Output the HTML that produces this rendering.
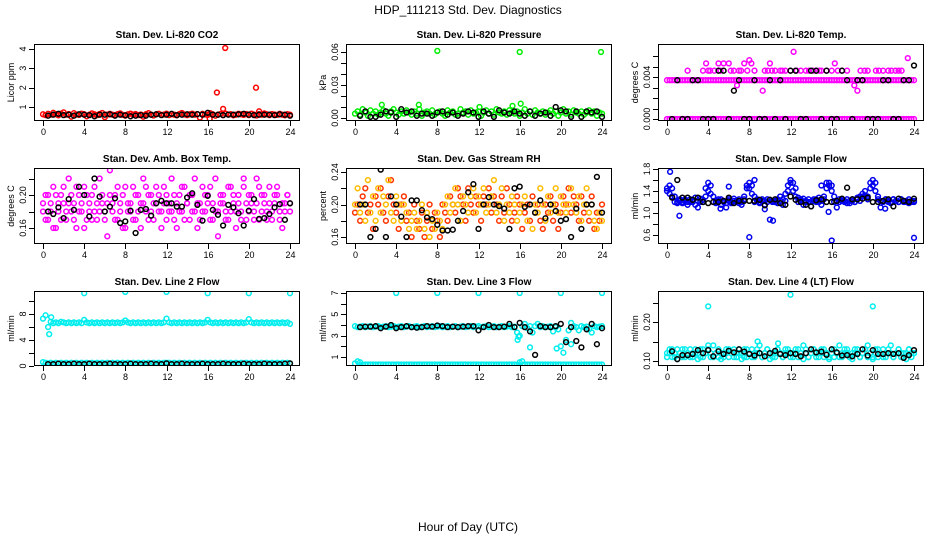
<!DOCTYPE html>
<html><head><meta charset="utf-8"><style>
html,body{margin:0;padding:0;background:#fff;}
svg{display:block;font-family:"Liberation Sans",sans-serif;}
</style></head><body>
<svg id="chart" width="936" height="540" viewBox="0 0 936 540" xmlns="http://www.w3.org/2000/svg">
<text x="468" y="14" text-anchor="middle" font-size="12">HDP_111213  Std. Dev. Diagnostics</text>
<text x="468" y="531" text-anchor="middle" font-size="12">Hour of Day (UTC)</text>
<g id="panels"></g>
</svg>
<script>
const xTicks = [0,4,8,12,16,20,24];
const blackHours = [0.5,1,1.5,2,2.5,3,3.5,4,4.5,5,5.5,6,6.5,7,7.5,8,8.5,9,9.5,10,10.5,11,11.5,12,12.5,13,13.5,14,14.5,15,15.5,16,16.5,17,17.5,18,18.5,19,19.5,20,20.5,21,21.5,22,22.5,23,23.5,24];

// Panel 1: CO2
const co2Red = [0.62,0.58,0.65,0.6,0.7,0.63,0.57,0.66,0.72,0.6,0.64,0.5,0.68,0.61,0.59,0.66,0.63,0.52,0.6,0.67,0.62,0.58,0.64,0.69,0.48,0.61,0.65,0.6,0.58,0.63,0.67,0.59,0.55,0.62,0.66,0.6,0.64,0.58,0.61,0.5,0.63,0.68,0.6,0.56,0.62,0.65,0.59,0.61,0.66,0.58,0.63,0.6,0.57,0.64,0.69,0.61,0.58,0.62,0.66,0.6,0.63,0.45,0.65,0.61,0.59,0.68,0.62,0.55,0.6,0.64,0.58,0.66,0.61,0.63,0.57,0.6,0.65,0.62,0.59,0.64,0.58,0.66,0.61,0.56,0.63,0.6,0.67,0.62,0.58,0.64,0.61,0.59,0.65,0.6,0.57,0.63,0.6];
const co2Black = [0.55,0.6,0.65,0.58,0.6,0.55,0.62,0.6,0.58,0.52,0.6,0.6,0.62,0.55,0.6,0.57,0.52,0.55,0.58,0.55,0.6,0.62,0.58,0.6,0.65,0.58,0.6,0.62,0.6,0.63,0.6,0.7,0.6,0.6,0.58,0.6,0.6,0.62,0.65,0.6,0.58,0.6,0.6,0.6,0.58,0.62,0.6,0.55];
const co2OutH = [16.9,17.5,17.7,20.7,16.2,21.0];
const co2OutV = [1.75,0.9,4.05,2.0,0.4,0.78];

// Panel 2: Pressure
const presGreen = [0.004,0.006,0.003,0.008,0.005,0.002,0.007,0.004,0.006,0.003,0.005,0.007,0.004,0.002,0.006,0.008,0.005,0.003,0.006,0.004,0.007,0.005,0.003,0.006,0.004,0.008,0.002,0.005,0.006,0.004,0.007,0.003,0.005,0.006,0.004,0.002,0.007,0.005,0.006,0.003,0.004,0.008,0.005,0.006,0.003,0.007,0.004,0.005,0.006,0.002,0.005,0.007,0.004,0.006,0.003,0.008,0.005,0.004,0.006,0.003,0.007,0.005,0.004,0.006,0.002,0.005,0.008,0.004,0.006,0.003,0.007,0.005,0.004,0.006,0.003,0.005,0.007,0.004,0.006,0.002,0.005,0.008,0.004,0.006,0.003,0.007,0.005,0.004,0.006,0.003,0.005,0.007,0.004,0.006,0.002,0.005,0.004];
const presBlack = [0.002,0.006,0.001,0.001,0.003,0.006,0.005,0.001,0.008,0.005,0.006,0.002,0.004,0.004,0.002,0.005,0.006,0.003,0.005,0.002,0.004,0.006,0.005,0.001,0.006,0.004,0.001,0.007,0.005,0.004,0.006,0.004,0.002,0.006,0.002,0.004,0.005,0.002,0.010,0.007,0.006,0.001,0.006,0.001,0.006,0.005,0.006,0.001];
const presOutH = [8.0,16.0,23.9,2.6,6.2,15.3,16.1,12.1];
const presOutV = [0.061,0.06,0.06,0.012,0.012,0.011,0.013,0.010];

// Panel 3: Temp
const tempLow = [0,0,0,0,0,0,0,0,0,0,0,0,0,0,0,0,0,0,0,0,0,0,0,0,0,0,0,0,0,0,0,0,0,0,0,0,0,0,0,0,0,0,0,0,0,0,0,0,0,0,0,0,0,0,0,0,0,0,0,0,0,0,0,0,0,0,0,0,0,0,0,0,0,0,0,0,0,0,0,0,0,0,0,0,0,0,0,0,0,0,0,0,0,0,0,0,0];
const tempMid = [0.0037,0.0037,0.0037,0.0037,0.0037,0.0037,0.0037,0.0037,0.0037,0.0037,0.0037,0.0037,0.0037,0.0037,0.0037,0.0037,0.0037,0.0037,0.0037,0.0037,0.0037,0.0037,0.0037,0.0037,0.0037,0.0037,0.0037,0.0037,0.0037,0.0037,0.0037,0.0037,0.0037,0.0037,0.0037,0.0037,0.0037,0.0037,0.0037,0.0037,0.0037,0.0037,0.0037,0.0037,0.0037,0.0037,0.0037,0.0037,0.0037,0.0037,0.0037,0.0037,0.0037,0.0037,0.0037,0.0037,0.0037,0.0037,0.0037,0.0037,0.0037,0.0037,0.0037,0.0037,0.0037,0.0037,0.0037,0.0037,0.0037,0.0037,0.0037,0.0037,0.0037,0.0037,0.0037,0.0037,0.0037,0.0037,0.0037,0.0037,0.0037,0.0037,0.0037,0.0037,0.0037,0.0037,0.0037,0.0037,0.0037,0.0037,0.0037,0.0037,0.0037,0.0037,0.0037,0.0037,0.0037];
const tempHighH = [2,3.5,3.8,4,4.2,4.6,5,5.2,5.5,6,6.2,6.5,6.8,7,7.2,7.5,7.8,8,8.2,8.5,9.3,9.5,9.8,10,10.2,10.5,11,11.2,11.5,12,12.3,12.6,13,13.5,13.8,14.2,14.5,14.8,15,15.5,16,16.3,16.6,17,17.5,18.2,18.5,18.8,19.2,19.5,20.3,20.6,21,21.5,21.8,22.2,22.5,22.8,23.4];
const tempHighV = [0.0046,0.0046,0.0053,0.0046,0.0046,0.0046,0.0053,0.0046,0.0053,0.0053,0.0046,0.0046,0.0032,0.0046,0.0046,0.0053,0.0046,0.0056,0.0053,0.0046,0.0027,0.0046,0.0046,0.0053,0.0046,0.0046,0.0046,0.0046,0.0046,0.0046,0.0064,0.0046,0.0046,0.0046,0.0046,0.0046,0.0046,0.0046,0.0046,0.0046,0.0046,0.0053,0.0046,0.0046,0.0046,0.0032,0.0027,0.0046,0.0046,0.0046,0.0046,0.0046,0.0046,0.0046,0.0046,0.0046,0.0046,0.0046,0.0058];
const tempBlack = [0,0.0037,0,0,0.0037,0.0037,0,0,0,0.0046,0.0046,0,0.0027,0.0037,0,0,0.0037,0,0,0.0037,0,0.0037,0,0.0046,0.0046,0,0,0.0046,0.0046,0,0.0046,0,0,0.0046,0.0037,0,0.0037,0.0037,0,0,0,0.0037,0.0037,0,0,0.0037,0.0037,0.0051];

// Panel 4: Amb box temp
const ambA = [0.18,0.2,0.17,0.19,0.21,0.16,0.18,0.2,0.19,0.17,0.22,0.18,0.19,0.16,0.2,0.18,0.21,0.17,0.19,0.2,0.18,0.17,0.22,0.19,0.18,0.15,0.2,0.19,0.17,0.21,0.18,0.2,0.16,0.19,0.18,0.21,0.17,0.2,0.19,0.22,0.18,0.17,0.2,0.19,0.21,0.18,0.16,0.19,0.2,0.18,0.22,0.17,0.19,0.2,0.18,0.21,0.19,0.17,0.2,0.18,0.16,0.19,0.21,0.18,0.2,0.17,0.19,0.22,0.18,0.2,0.19,0.17,0.21,0.18,0.2,0.16,0.19,0.18,0.21,0.17,0.2,0.19,0.18,0.22,0.17,0.2,0.19,0.18,0.21,0.17,0.19,0.2,0.18,0.16,0.19,0.2,0.18];
const ambB = [0.19,0.17,0.2,0.18,0.16,0.2,0.19,0.17,0.21,0.18,0.19,0.2,0.17,0.21,0.18,0.19,0.16,0.2,0.18,0.17,0.21,0.19,0.18,0.2,0.17,0.19,0.23,0.18,0.2,0.17,0.19,0.16,0.21,0.18,0.19,0.17,0.2,0.18,0.16,0.19,0.21,0.2,0.18,0.17,0.19,0.2,0.18,0.21,0.17,0.19,0.18,0.2,0.16,0.18,0.21,0.17,0.19,0.2,0.18,0.22,0.19,0.17,0.18,0.2,0.19,0.21,0.17,0.18,0.15,0.19,0.2,0.18,0.17,0.21,0.19,0.18,0.2,0.17,0.22,0.19,0.18,0.2,0.17,0.19,0.21,0.18,0.2,0.17,0.19,0.18,0.2,0.21,0.17,0.19,0.18,0.2,0.19];
const ambBlack = [0.18,0.177,0.185,0.172,0.195,0.182,0.21,0.2,0.174,0.22,0.198,0.18,0.186,0.196,0.166,0.168,0.181,0.154,0.182,0.183,0.175,0.19,0.193,0.19,0.19,0.186,0.186,0.197,0.202,0.188,0.169,0.199,0.182,0.176,0.163,0.188,0.185,0.178,0.163,0.181,0.195,0.171,0.172,0.177,0.185,0.189,0.17,0.19];

// Panel 5: Gas stream RH
const rhRed = [0.19,0.2,0.18,0.21,0.22,0.19,0.2,0.17,0.21,0.2,0.22,0.19,0.18,0.21,0.23,0.2,0.19,0.17,0.2,0.21,0.18,0.19,0.16,0.2,0.18,0.17,0.19,0.16,0.18,0.2,0.17,0.19,0.18,0.16,0.2,0.19,0.18,0.21,0.2,0.19,0.22,0.21,0.2,0.18,0.22,0.2,0.19,0.21,0.2,0.18,0.21,0.2,0.22,0.19,0.21,0.2,0.18,0.21,0.19,0.22,0.2,0.18,0.19,0.21,0.2,0.17,0.19,0.2,0.18,0.21,0.19,0.2,0.18,0.17,0.2,0.19,0.21,0.18,0.2,0.17,0.19,0.21,0.2,0.22,0.19,0.21,0.2,0.18,0.21,0.19,0.2,0.18,0.21,0.17,0.19,0.18,0.2];
const rhYellow = [0.2,0.22,0.19,0.2,0.18,0.23,0.19,0.21,0.18,0.22,0.19,0.21,0.2,0.23,0.19,0.18,0.21,0.2,0.18,0.2,0.19,0.17,0.18,0.19,0.17,0.18,0.2,0.17,0.19,0.16,0.18,0.17,0.19,0.18,0.17,0.2,0.21,0.19,0.2,0.22,0.2,0.18,0.21,0.2,0.19,0.21,0.22,0.19,0.21,0.2,0.22,0.19,0.2,0.21,0.23,0.19,0.2,0.22,0.18,0.2,0.19,0.21,0.2,0.18,0.19,0.2,0.21,0.18,0.2,0.17,0.2,0.19,0.22,0.2,0.18,0.21,0.19,0.2,0.22,0.19,0.21,0.2,0.19,0.2,0.22,0.2,0.19,0.21,0.18,0.2,0.22,0.19,0.2,0.18,0.17,0.19,0.18];
const rhBlack = [0.2,0.2,0.16,0.17,0.243,0.16,0.21,0.2,0.185,0.16,0.205,0.205,0.193,0.184,0.182,0.175,0.168,0.168,0.169,0.18,0.192,0.215,0.225,0.17,0.2,0.209,0.2,0.198,0.195,0.17,0.22,0.222,0.197,0.2,0.19,0.205,0.183,0.2,0.192,0.18,0.182,0.16,0.195,0.17,0.2,0.2,0.234,0.19];

// Panel 6: Sample flow
const sfBlue = [1.4,1.5,1.45,1.3,1.2,1.25,1.18,1.22,1.2,1.25,1.2,1.15,1.22,1.26,1.2,1.45,1.55,1.5,1.3,1.2,1.22,1.25,1.2,1.18,1.22,1.2,1.26,1.22,1.18,1.2,1.25,1.45,1.55,1.5,1.3,1.22,1.2,1.25,1.22,1.2,1.24,1.2,1.22,1.18,1.3,1.25,1.22,1.4,1.6,1.55,1.45,1.28,1.22,1.26,1.2,1.25,1.2,1.22,1.25,1.2,1.22,1.25,1.45,1.55,1.5,1.3,1.22,1.2,1.25,1.22,1.18,1.22,1.25,1.2,1.28,1.3,1.35,1.4,1.3,1.45,1.6,1.55,1.3,1.22,1.2,1.25,1.22,1.2,1.25,1.22,1.2,1.25,1.22,1.2,1.18,1.22,1.2];
const sfBlue2 = [1.45,1.35,1.3,1.2,1.18,1.22,1.2,1.25,1.15,1.2,1.22,1.28,1.1,1.2,1.24,1.3,1.4,1.35,1.2,1.18,1.25,1.15,1.22,1.1,1.25,1.18,1.22,1.2,1.25,1.15,1.3,1.5,1.45,1.35,1.2,1.25,1.18,1.22,1.15,1.25,0.88,1.22,1.2,1.25,1.22,1.15,1.35,1.5,1.55,1.4,1.3,1.2,1.25,1.15,1.22,1.2,1.12,1.25,1.2,1.28,1.15,1.3,1.55,1.5,1.4,1.2,1.1,1.25,1.22,1.2,1.25,1.18,1.22,1.2,1.25,1.22,1.3,1.32,1.25,1.55,1.5,1.4,1.25,1.1,1.22,1.25,1.2,1.18,1.25,1.22,1.2,1.25,1.2,1.22,1.25,1.2,1.22];
const sfBlack = [1.28,1.6,1.28,1.28,1.24,1.28,1.2,1.18,1.2,1.2,1.22,1.28,1.18,1.22,1.22,1.22,1.22,1.24,1.14,1.24,1.25,1.18,1.15,1.3,1.24,1.2,1.15,1.12,1.23,1.25,1.2,1.2,1.22,1.26,1.46,1.25,1.25,1.26,1.28,1.2,1.2,1.22,1.25,1.12,1.26,1.22,1.2,1.26];
const sfOutH = [0.3,8.0,16.0,24.0,10.3,6.0,8.5,15.0,15.7,1.2,5.2,9.5,21.2];
const sfOutV = [1.75,0.56,0.5,0.55,0.86,1.48,1.6,1.5,1.02,0.95,1.08,1.07,1.08];

// Panel 7: Line 2 flow
const l2High = [7.3,7.8,6.0,6.8,6.6,6.7,6.6,6.8,6.7,6.6,6.7,6.6,6.7,6.6,6.7,6.6,7.1,6.7,6.6,6.7,6.6,6.7,6.6,6.7,6.6,6.7,6.6,6.7,6.6,6.7,6.6,6.7,7.0,6.7,6.6,6.7,6.6,6.7,6.6,6.7,6.6,6.7,6.6,6.7,6.6,6.7,6.6,6.7,7.3,6.7,6.6,6.7,6.6,6.7,6.6,6.7,6.6,6.7,6.6,6.7,6.6,6.7,6.6,6.7,7.1,6.7,6.6,6.7,6.6,6.7,6.6,6.7,6.6,6.7,6.6,6.7,6.6,6.7,6.6,6.7,7.2,6.7,6.6,6.7,6.6,6.7,6.6,6.7,6.6,6.7,6.6,6.7,6.6,6.7,6.6,6.7,6.5];
const l2Low = [0.6,0.5,0.4,0.5,0.4,0.5,0.4,0.5,0.4,0.5,0.4,0.5,0.4,0.5,0.4,0.5,0.4,0.5,0.4,0.5,0.4,0.5,0.4,0.5,0.4,0.5,0.4,0.5,0.4,0.5,0.4,0.5,0.4,0.5,0.4,0.5,0.4,0.5,0.4,0.5,0.4,0.5,0.4,0.5,0.4,0.5,0.4,0.5,0.5,0.5,0.4,0.5,0.4,0.5,0.4,0.5,0.4,0.5,0.4,0.5,0.4,0.5,0.4,0.5,0.4,0.5,0.4,0.5,0.4,0.5,0.4,0.5,0.4,0.5,0.4,0.5,0.4,0.5,0.4,0.5,0.4,0.5,0.4,0.5,0.4,0.5,0.4,0.5,0.4,0.5,0.4,0.5,0.4,0.5,0.4,0.5,0.4];
const l2Black = [0.3,0.3,0.35,0.3,0.3,0.35,0.3,0.3,0.35,0.3,0.3,0.3,0.35,0.3,0.3,0.3,0.35,0.3,0.3,0.3,0.35,0.3,0.3,0.4,0.3,0.3,0.35,0.3,0.3,0.3,0.35,0.3,0.3,0.3,0.35,0.3,0.3,0.3,0.35,0.3,0.3,0.3,0.35,0.3,0.3,0.3,0.35,0.4];
const l2OutH = [4,8,12,16,20,24,0.6,0.8];
const l2OutV = [11.2,11.4,11.4,11.2,11.2,11.2,4.9,7.5];

// Panel 8: Line 3 flow
const l3High = [3.9,3.8,3.85,3.9,3.8,3.85,3.9,3.8,3.85,3.9,3.8,3.85,3.9,3.8,3.85,3.9,3.8,3.85,3.9,3.8,3.85,3.9,3.8,3.85,3.9,3.8,3.85,3.9,3.8,3.85,3.9,3.8,3.85,3.9,3.8,3.85,3.9,3.8,3.85,3.9,3.8,3.85,3.9,3.8,3.85,3.9,3.8,3.85,3.9,3.8,3.85,3.9,3.8,3.85,3.9,3.8,3.85,3.9,3.8,3.85,3.9,3.8,3.85,3.3,3.0,3.9,4.1,3.7,3.9,3.3,3.9,4.1,3.8,3.9,3.8,3.85,3.9,3.4,3.8,3.6,2.0,1.4,2.6,3.5,4.2,3.9,3.8,3.5,3.9,3.8,3.85,3.6,3.3,3.9,3.8,3.85,3.9];
const l3Low = [0.4,0.6,0.5,0.3,0.3,0.3,0.3,0.3,0.3,0.3,0.3,0.3,0.3,0.3,0.3,0.3,0.3,0.3,0.3,0.3,0.3,0.3,0.3,0.3,0.3,0.3,0.3,0.3,0.3,0.3,0.3,0.3,0.3,0.3,0.3,0.3,0.3,0.3,0.3,0.3,0.3,0.3,0.3,0.3,0.3,0.3,0.3,0.3,0.3,0.3,0.3,0.3,0.3,0.3,0.3,0.3,0.3,0.3,0.3,0.3,0.3,0.3,0.3,0.3,0.5,0.6,0.3,0.3,0.3,0.3,0.3,0.3,0.3,0.3,0.3,0.3,0.3,0.3,0.3,0.3,0.3,0.3,0.3,0.3,0.3,0.3,0.3,0.3,0.3,0.3,0.3,0.3,0.3,0.3,0.3,0.3,0.3];
const l3Black = [3.8,3.85,3.85,3.9,3.7,3.85,4.0,3.7,3.8,3.9,3.8,3.75,3.8,3.9,3.85,3.95,3.9,3.8,3.85,3.8,3.85,3.9,3.9,3.5,3.8,4.0,3.8,3.8,3.85,4.1,3.8,4.2,3.8,3.4,1.2,3.9,3.8,3.8,3.9,4.1,2.4,3.8,2.5,1.9,3.6,4.1,2.2,3.7];
const l3OutH = [4,8,12,16,20,24,15.8,15.9,19.6,21.0,17.0];
const l3OutV = [7.0,7.0,7.0,7.0,7.0,7.0,2.6,2.9,1.8,2.2,1.9];

// Panel 9: Line 4 flow
const l4A = [0.12,0.13,0.11,0.12,0.13,0.12,0.11,0.13,0.12,0.11,0.12,0.13,0.12,0.11,0.13,0.12,0.14,0.12,0.11,0.12,0.13,0.12,0.11,0.12,0.13,0.12,0.11,0.12,0.13,0.12,0.11,0.13,0.12,0.11,0.12,0.13,0.12,0.11,0.12,0.13,0.12,0.11,0.12,0.13,0.12,0.11,0.12,0.13,0.12,0.11,0.12,0.13,0.12,0.14,0.12,0.11,0.12,0.13,0.12,0.11,0.12,0.13,0.12,0.11,0.12,0.13,0.12,0.11,0.12,0.13,0.12,0.11,0.12,0.13,0.12,0.11,0.12,0.13,0.14,0.12,0.11,0.12,0.13,0.12,0.11,0.12,0.13,0.12,0.11,0.12,0.13,0.12,0.11,0.12,0.13,0.12,0.12];
const l4B = [0.11,0.12,0.13,0.11,0.105,0.12,0.13,0.11,0.12,0.13,0.11,0.12,0.105,0.13,0.11,0.12,0.13,0.11,0.14,0.12,0.11,0.105,0.12,0.13,0.11,0.12,0.13,0.11,0.12,0.105,0.13,0.11,0.12,0.13,0.11,0.12,0.14,0.11,0.12,0.13,0.105,0.12,0.11,0.13,0.12,0.11,0.13,0.12,0.11,0.12,0.13,0.11,0.12,0.105,0.13,0.11,0.12,0.13,0.11,0.12,0.13,0.11,0.12,0.105,0.13,0.11,0.12,0.14,0.11,0.12,0.13,0.11,0.105,0.12,0.13,0.11,0.12,0.13,0.11,0.12,0.105,0.13,0.11,0.12,0.13,0.11,0.12,0.14,0.11,0.12,0.13,0.11,0.12,0.105,0.13,0.11,0.12];
const l4Black = [0.125,0.105,0.115,0.115,0.118,0.128,0.12,0.128,0.112,0.125,0.118,0.126,0.122,0.13,0.124,0.118,0.114,0.12,0.112,0.12,0.126,0.118,0.115,0.12,0.118,0.112,0.12,0.13,0.122,0.124,0.116,0.13,0.122,0.114,0.115,0.112,0.118,0.13,0.114,0.128,0.118,0.118,0.12,0.118,0.12,0.108,0.115,0.128];
const l4OutH = [4,12,20,10.8,8.8];
const l4OutV = [0.24,0.27,0.24,0.145,0.15];

const NS = "http://www.w3.org/2000/svg";
const root = document.getElementById('panels');
function mk(tag, attrs, parent){
  const e = document.createElementNS(NS, tag);
  for (const k in attrs) e.setAttribute(k, attrs[k]);
  (parent||root).appendChild(e);
  return e;
}
const COLS = [34, 346, 658];
const ROWS = [[44,121],[168,244],[291,366]];

function panel(cfg){
  const L = COLS[cfg.col], R = L + 266;
  const T = ROWS[cfg.row][0], B = ROWS[cfg.row][1];
  const g = mk('g', {});
  
  
  const xS = h => L + 9 + h * (247/24);
  const yS = v => cfg.pa + (v - cfg.va) * (cfg.pb - cfg.pa) / (cfg.vb - cfg.va);
  const t = mk('text', {x:(L+R)/2, y:T-6, 'text-anchor':'middle', 'font-size':'10', 'font-weight':'bold'}, g);
  t.textContent = cfg.title;
  
  
  const clip = 'clip' + cfg.col + cfg.row;
  const cp = mk('clipPath', {id: clip}, g);
  mk('rect', {x:L, y:T, width:R-L, height:B-T}, cp);
  const pts = mk('g', {'clip-path':'url(#'+clip+')'}, g);
  
  
  cfg.series.forEach(s => {
    const sg = mk('g', {fill:'none', stroke:s.color, 'stroke-width':'1.5'}, pts);
    
    
    s.v.forEach((v, i) => {
      const h = s.h ? s.h[i] : i * 24 / (s.v.length - 1);
      const c = mk('circle', {cx:xS(h).toFixed(1), cy:yS(v).toFixed(1), r:'2.4'}, sg);
      
      
    });
  });
  const box = mk('rect', {x:L+0.5, y:T+0.5, width:R-L-1, height:B-T-1, fill:'none', stroke:'#000', 'stroke-width':'1'}, g);
  
  
  const xa = mk('g', {}, g);
  
  
  xTicks.forEach(h => {
    const x = Math.round(xS(h)) + 0.5;
    mk('line', {x1:x, x2:x, y1:B, y2:B+5, stroke:'#000'}, xa);
    const lt = mk('text', {x:x, y:B+14, 'text-anchor':'middle', 'font-size':'9'}, xa);
    lt.textContent = h;
  });
  const ya = mk('g', {}, g);
  
  
  cfg.yTicks.forEach(v => {
    const y = Math.round(yS(v)) + 0.5;
    mk('line', {x1:L-5, x2:L, y1:y, y2:y, stroke:'#000'}, ya);
  });
  cfg.yLabels.forEach(v => {
    const y = yS(v);
    const lt = mk('text', {x:0, y:0, transform:'translate('+(L-8)+','+y.toFixed(1)+') rotate(-90)', 'text-anchor':'middle', 'font-size':'9'}, ya);
    lt.textContent = v.toFixed(cfg.dec);
  });
  const yt = mk('text', {x:0, y:0, transform:'translate('+(L-20)+','+((T+B)/2)+') rotate(-90)', 'text-anchor':'middle', 'font-size':'9'}, g);
  yt.textContent = cfg.ytitle;
  
  
}

panel({name:'panel-co2', col:0,row:0,title:'Stan. Dev. Li-820 CO2',ytitle:'Licor ppm',va:1,pa:107,vb:4,pb:49,dec:0,
  yTicks:[1,2,3,4], yLabels:[1,2,3,4],
  series:[{name:'co2-red',color:'#ff0000',v:co2Red},{name:'co2-outliers',color:'#ff0000',v:co2OutV,h:co2OutH},{name:'co2-black',color:'#000',v:co2Black,h:blackHours}]});
panel({name:'panel-pressure', col:1,row:0,title:'Stan. Dev. Li-820 Pressure',ytitle:'kPa',va:0,pa:118,vb:0.06,pb:52,dec:2,
  yTicks:[0,0.01,0.02,0.03,0.04,0.05,0.06], yLabels:[0,0.03,0.06],
  series:[{name:'pressure-green',color:'#00ee00',v:presGreen},{name:'pressure-outliers',color:'#00ee00',v:presOutV,h:presOutH},{name:'pressure-black',color:'#000',v:presBlack,h:blackHours}]});
panel({name:'panel-temp', col:2,row:0,title:'Stan. Dev. Li-820 Temp.',ytitle:'degrees C',va:0,pa:119,vb:0.004,pb:77,dec:3,
  yTicks:[0,0.001,0.002,0.003,0.004,0.005,0.006], yLabels:[0,0.004],
  series:[{name:'temp-low',color:'#ff00ff',v:tempLow},{name:'temp-mid',color:'#ff00ff',v:tempMid},{name:'temp-high',color:'#ff00ff',v:tempHighV,h:tempHighH},{name:'temp-black',color:'#000',v:tempBlack,h:blackHours}]});
panel({name:'panel-amb-box', col:0,row:1,title:'Stan. Dev. Amb. Box Temp.',ytitle:'degrees C',va:0.16,pa:228,vb:0.20,pb:195,dec:2,
  yTicks:[0.16,0.18,0.20,0.22], yLabels:[0.16,0.20],
  series:[{name:'amb-a',color:'#ff00ff',v:ambA},{name:'amb-b',color:'#ff00ff',v:ambB},{name:'amb-black',color:'#000',v:ambBlack,h:blackHours}]});
panel({name:'panel-rh', col:1,row:1,title:'Stan. Dev. Gas Stream RH',ytitle:'percent',va:0.16,pa:237,vb:0.24,pb:172,dec:2,
  yTicks:[0.16,0.18,0.20,0.22,0.24], yLabels:[0.16,0.20,0.24],
  series:[{name:'rh-red',color:'#ff3300',v:rhRed},{name:'rh-yellow',color:'#ffbb00',v:rhYellow},{name:'rh-black',color:'#000',v:rhBlack,h:blackHours}]});
panel({name:'panel-sample-flow', col:2,row:1,title:'Stan. Dev. Sample Flow',ytitle:'ml/min',va:1.0,pa:213,vb:1.8,pb:169,dec:1,
  yTicks:[0.6,0.8,1.0,1.2,1.4,1.6,1.8], yLabels:[0.6,1.0,1.4,1.8],
  series:[{name:'flow-blue',color:'#0000ee',v:sfBlue},{name:'flow-blue-2',color:'#0000ee',v:sfBlue2},{name:'flow-outliers',color:'#0000ee',v:sfOutV,h:sfOutH},{name:'flow-black',color:'#000',v:sfBlack,h:blackHours}]});
panel({name:'panel-line2', col:0,row:2,title:'Stan. Dev. Line 2 Flow',ytitle:'ml/min',va:0,pa:366,vb:8,pb:314,dec:0,
  yTicks:[0,2,4,6,8,10], yLabels:[0,4,8],
  series:[{name:'line2-high',color:'#00eeee',v:l2High},{name:'line2-low',color:'#00eeee',v:l2Low},{name:'line2-outliers',color:'#00eeee',v:l2OutV,h:l2OutH},{name:'line2-black',color:'#000',v:l2Black,h:blackHours}]});
panel({name:'panel-line3', col:1,row:2,title:'Stan. Dev. Line 3 Flow',ytitle:'ml/min',va:1,pa:357,vb:7,pb:293,dec:0,
  yTicks:[1,2,3,4,5,6,7], yLabels:[1,3,5,7],
  series:[{name:'line3-high',color:'#00eeee',v:l3High},{name:'line3-low',color:'#00eeee',v:l3Low},{name:'line3-outliers',color:'#00eeee',v:l3OutV,h:l3OutH},{name:'line3-black',color:'#000',v:l3Black,h:blackHours}]});
panel({name:'panel-line4', col:2,row:2,title:'Stan. Dev. Line 4 (LT) Flow',ytitle:'ml/min',va:0.10,pa:361,vb:0.20,pb:322,dec:2,
  yTicks:[0.10,0.15,0.20,0.25], yLabels:[0.10,0.20],
  series:[{name:'line4-a',color:'#00eeee',v:l4A},{name:'line4-b',color:'#00eeee',v:l4B},{name:'line4-outliers',color:'#00eeee',v:l4OutV,h:l4OutH},{name:'line4-black',color:'#000',v:l4Black,h:blackHours}]});
</script>
</body></html>
